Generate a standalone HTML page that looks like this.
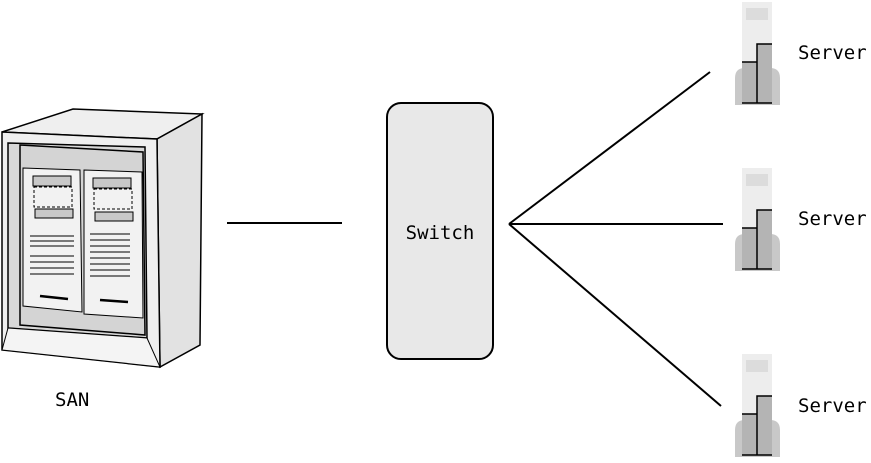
<!DOCTYPE html>
<html><head><style>
body{margin:0;background:#fff;width:871px;height:459px;overflow:hidden;font-family:"DejaVu Sans Mono","Liberation Mono",monospace}
</style></head><body>
<svg width="871" height="459" xmlns="http://www.w3.org/2000/svg">
<g stroke="#000" stroke-width="1.5" fill="#efefef">
 <polygon points="2,132 73,109 202,114 157,139"/>
 <polygon points="157,139 202,114 200,345 160,367" fill="#e2e2e2"/>
 <polygon points="2,132 157,139 160,367 2,350"/>
 <polygon points="8,143 145,147 147,338 8,328" fill="#d8d8d8"/>
 <polygon points="20,145 143,152 145,335 20,325" fill="#d4d4d4"/>
 <polygon points="23,168 80,170 82,312 23,306" fill="#f2f2f2" stroke-width="1"/>
 <polygon points="84,170 142,172 143,318 84,314" fill="#f2f2f2" stroke-width="1"/>
 <polygon points="8,328 147,338 160,367 2,350" fill="#f4f4f4" stroke-width="1"/>
 <rect x="33" y="176" width="38" height="10" fill="#c8c8c8" stroke-width="1"/>
 <rect x="35" y="209" width="38" height="9" fill="#c8c8c8" stroke-width="1"/>
 <rect x="93" y="178" width="38" height="10" fill="#c8c8c8" stroke-width="1"/>
 <rect x="95" y="212" width="38" height="9" fill="#c8c8c8" stroke-width="1"/>
 <rect x="34" y="187" width="38" height="20" fill="none" stroke-dasharray="3,2" stroke-width="1"/>
 <rect x="94" y="189" width="38" height="20" fill="none" stroke-dasharray="3,2" stroke-width="1"/>
 <g stroke-width="1" fill="none">
  <path d="M30 236h44M30 241h44M30 246h44M30 256h44M30 262h44M30 268h44M30 274h44M90 234h40M90 240h40M90 246h40M90 252h40M90 258h40M90 264h40M90 270h40M90 276h40"/>
 </g>
 <path d="M40 296l28 3M100 300l28 2" stroke-width="2.5" fill="none"/>
</g>
<line x1="227" y1="223" x2="342" y2="223" stroke="#000" stroke-width="2"/>
<rect x="387" y="103" width="106" height="256" rx="14" fill="#e8e8e8" stroke="#000" stroke-width="2"/>
<text x="440" y="239" text-anchor="middle" font-family="DejaVu Sans Mono, Liberation Mono, monospace" font-size="19">Switch</text>
<g stroke="#000" stroke-width="2">
 <line x1="509" y1="224" x2="710" y2="72"/>
 <line x1="509" y1="224" x2="723" y2="224"/>
 <line x1="509" y1="224" x2="721" y2="406"/>
</g>
<defs>
 <g id="srv">
  <path d="M735,105 V78 Q735,68 745,68 H770 Q780,68 780,78 V105 Z" fill="#c8c8c8"/>
  <rect x="742" y="2" width="30" height="100" fill="#ededed"/>
  <rect x="746" y="8" width="22" height="12" fill="#dcdcdc"/>
  <rect x="742" y="62" width="15" height="41" fill="#b4b4b4"/>
  <rect x="757" y="44" width="15" height="59" fill="#b4b4b4"/>
  <path d="M742,62 H757 V44 H772 M757,62 V103 M742,103 H772" stroke="#000" stroke-width="1.5" fill="none"/>
 </g>
</defs>
<use href="#srv"/>
<use href="#srv" y="166"/>
<use href="#srv" y="352"/>
<g font-family="DejaVu Sans Mono, Liberation Mono, monospace" font-size="19">
 <text x="798" y="59">Server</text>
 <text x="798" y="225">Server</text>
 <text x="798" y="412">Server</text>
 <text x="55" y="406">SAN</text>
</g>
</svg>
</body></html>
